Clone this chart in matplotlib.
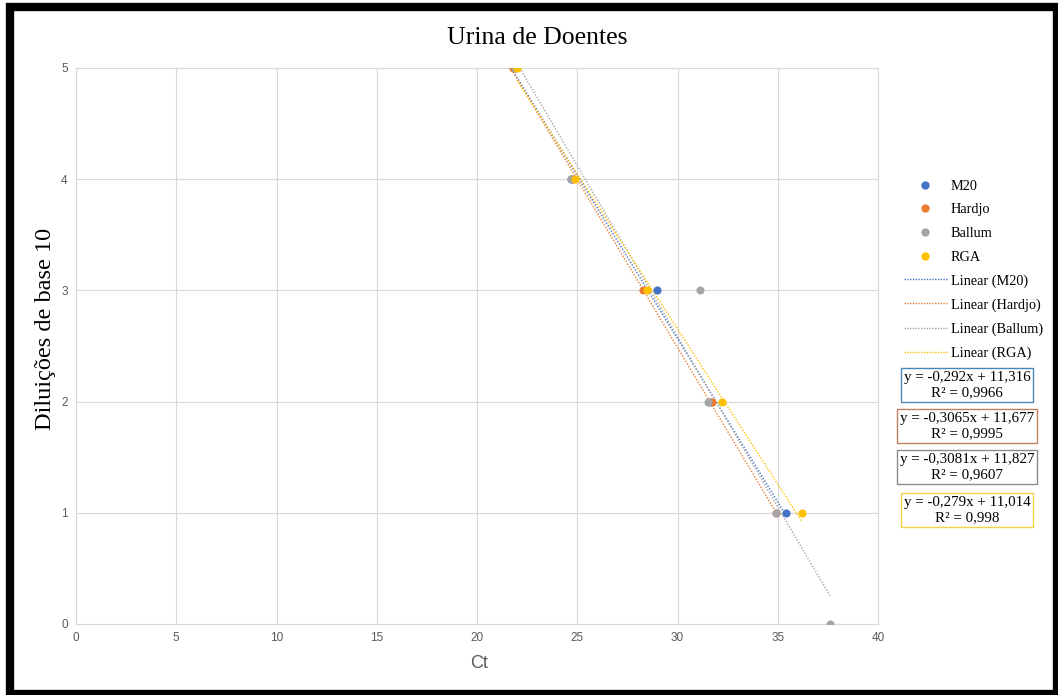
import numpy as np
import matplotlib
matplotlib.use("Agg")
import matplotlib.pyplot as plt
from matplotlib.lines import Line2D
from matplotlib.patches import Rectangle

# ---- data ----
dilutions = [5, 4, 3, 2, 1]
ct_m20 = [21.9, 24.7, 29.0, 31.6, 35.4]
ct_hardjo = [21.8, 24.8, 28.3, 31.7, 34.9]
ct_ballum = [21.9, 24.7, 31.1, 31.5, 34.9, 37.6]
dil_ballum = [5, 4, 3, 2, 1, 0]
ct_rga = [22.0, 24.9, 28.5, 32.2, 36.2]

series_names = ["M20", "Hardjo", "Ballum", "RGA"]
colors = ["#4472C4", "#ED7D31", "#A5A5A5", "#FFC000"]
box_colors = ["#4a86b8", "#c0825a", "#8c8c8c", "#f2d24b"]
equations = ["y = -0,292x + 11,316\nR² = 0,9966",
             "y = -0,3065x + 11,677\nR² = 0,9995",
             "y = -0,3081x + 11,827\nR² = 0,9607",
             "y = -0,279x + 11,014\nR² = 0,998"]

xs_all = [ct_m20, ct_hardjo, ct_ballum, ct_rga]
ys_all = [dilutions, dilutions, dil_ballum, dilutions]

W, H = 1058, 695
fig = plt.figure(figsize=(W / 100, H / 100), dpi=100)
ax = fig.add_axes([76 / W, 1 - 624 / H, (878 - 76) / W, (624 - 68) / H])

serif = "Liberation Serif"
sans = "Liberation Sans"

# trendlines first
for xs, ys, c in zip(xs_all, ys_all, colors):
    xs = np.array(xs); ys = np.array(ys)
    m, b = np.polyfit(xs, ys, 1)
    xl = np.array([xs.min(), xs.max()])
    ax.plot(xl, m * xl + b, linestyle=(0, (1, 1.2)), color=c, lw=1.0, zorder=2)

# points
for xs, ys, c in zip(xs_all, ys_all, colors):
    ax.scatter(xs, ys, s=34, color=c, zorder=3, linewidths=0)

ax.set_xlim(0, 40)
ax.set_ylim(0, 5)
ax.set_xticks(range(0, 41, 5))
ax.set_yticks(range(0, 6))
ax.grid(True, color="#d9d9d9", lw=0.8)
ax.set_axisbelow(True)
for s in ax.spines.values():
    s.set_color("#d9d9d9")
    s.set_linewidth(0.8)
ax.tick_params(length=0, labelsize=8.5, colors="#595959", pad=6)
for lab in ax.get_xticklabels() + ax.get_yticklabels():
    lab.set_fontfamily(sans)

fig.text(479 / W, 1 - 663 / H, "Ct", fontsize=13, color="#595959", fontfamily=sans,
         ha="center", va="center")
fig.text(46 / W, 1 - 329 / H, "Diluições de base 10", rotation=90, fontsize=17.5,
         fontfamily=serif, ha="center", va="center")
fig.text(537 / W, 1 - 38 / H, "Urina de Doentes", fontsize=18.5, fontfamily=serif,
         ha="center", va="center")

# legend
handles = []
labels = []
for n, c in zip(series_names, colors):
    handles.append(Line2D([], [], marker="o", linestyle="none", color=c, markersize=5))
    labels.append(n)
for n, c in zip(series_names, colors):
    handles.append(Line2D([], [], linestyle=(0, (1, 1)), color=c, lw=1.0))
    labels.append(f"Linear ({n})")
leg = fig.legend(handles, labels, loc="upper left",
                 bbox_to_anchor=(898 / W, 1 - 174 / H), frameon=False,
                 prop={"family": serif, "size": 10.3}, handlelength=3.0,
                 handletextpad=0.3, labelspacing=0.74, borderaxespad=0)

# equation boxes
eq_y = [385, 426, 467, 510]
for txt, bc, yy in zip(equations, box_colors, eq_y):
    fig.text(967 / W, 1 - yy / H, txt, fontsize=10.8, fontfamily=serif,
             ha="center", va="center", linespacing=1.2,
             multialignment="center",
             bbox=dict(boxstyle="square,pad=0.2", fc="white", ec=bc, lw=1.0))

# outer black frame
fig.patches.append(Rectangle((10 / W, 1 - 694 / H), (1057 - 10) / W, (694 - 7) / H,
                             transform=fig.transFigure, fill=False, ec="black",
                             lw=6, zorder=10))

fig.savefig("out.png", dpi=100)
